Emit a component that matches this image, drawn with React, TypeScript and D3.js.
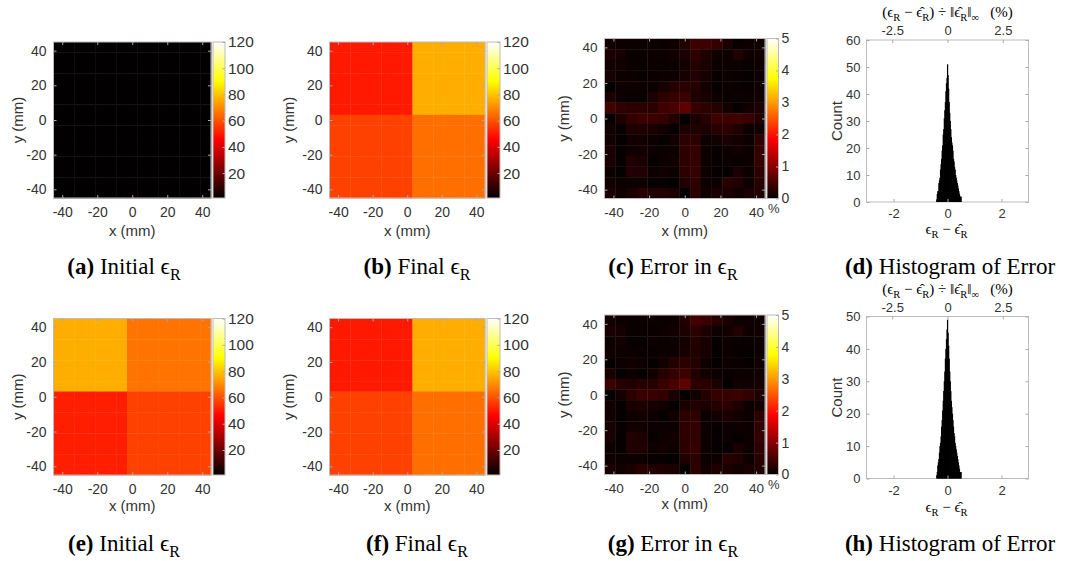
import React, { useEffect, useRef } from "react";
import * as d3 from "d3";

// cell centres of the 15 x 15 reconstruction grid (mm)
const cellCenters = [-42, -36, -30, -24, -18, -12, -6, 0, 6, 12, 18, 24, 30, 36, 42];
const mmTicks = [-40, -20, 0, 20, 40];
const epsTicks = [20, 40, 60, 80, 100, 120];
const errTicks = [0, 1, 2, 3, 4, 5];

// quadrant permittivities: [top-left, top-right, bottom-left, bottom-right]
const initialA = [1, 1, 1, 1];
const finalB = [50, 76, 57, 65];
const initialE = [76, 66, 51, 57];
const finalF = [50, 76, 57, 65];
// quadrant boundaries (mm): [x, y]
const splitB = [3, 3];
const splitE = [-3, 3];

// relative error (%) rows top -> bottom
const errorC = [
  [0.12, 0.1, 0.08, 0.1, 0.08, 0.06, 0.1, 0.22, 0.42, 0.45, 0.38, 0.18, 0.04, 0.08, 0.1],
  [0.18, 0.15, 0.06, 0.06, 0.08, 0.08, 0.12, 0.18, 0.32, 0.2, 0.1, 0.08, 0.22, 0.1, 0.12],
  [0.12, 0.12, 0.06, 0.05, 0.08, 0.06, 0.08, 0.12, 0.25, 0.18, 0.06, 0.1, 0.08, 0.05, 0.1],
  [0.15, 0.1, 0.08, 0.06, 0.06, 0.08, 0.1, 0.15, 0.22, 0.15, 0.04, 0.08, 0.06, 0.04, 0.08],
  [0.02, 0.1, 0.1, 0.08, 0.06, 0.15, 0.25, 0.28, 0.25, 0.12, 0.04, 0.08, 0.06, 0.04, 0.1],
  [0.2, 0.08, 0.06, 0.05, 0.18, 0.32, 0.38, 0.42, 0.22, 0.15, 0.1, 0.06, 0.08, 0.08, 0.12],
  [0.48, 0.35, 0.32, 0.32, 0.3, 0.45, 0.52, 0.68, 0.38, 0.32, 0.25, 0.12, 0.04, 0.12, 0.18],
  [0.02, 0.2, 0.35, 0.42, 0.42, 0.38, 0.22, 0.02, 0.18, 0.28, 0.45, 0.45, 0.45, 0.4, 0.22],
  [0.12, 0.04, 0.2, 0.2, 0.18, 0.12, 0.04, 0.18, 0.22, 0.18, 0.28, 0.32, 0.22, 0.08, 0.12],
  [0.12, 0.04, 0.12, 0.12, 0.08, 0.04, 0.12, 0.32, 0.32, 0.08, 0.12, 0.18, 0.12, 0.08, 0.32],
  [0.18, 0.04, 0.12, 0.12, 0.08, 0.08, 0.08, 0.32, 0.38, 0.08, 0.04, 0.08, 0.12, 0.08, 0.38],
  [0.18, 0.04, 0.22, 0.18, 0.04, 0.08, 0.12, 0.32, 0.38, 0.08, 0.04, 0.08, 0.04, 0.08, 0.38],
  [0.08, 0.04, 0.22, 0.22, 0.08, 0.12, 0.08, 0.32, 0.38, 0.08, 0.04, 0.04, 0.18, 0.08, 0.32],
  [0.12, 0.08, 0.08, 0.08, 0.04, 0.04, 0.02, 0.22, 0.32, 0.08, 0.08, 0.28, 0.22, 0.08, 0.28],
  [0.18, 0.12, 0.18, 0.28, 0.22, 0.22, 0.18, 0.02, 0.32, 0.12, 0.18, 0.18, 0.12, 0.18, 0.22],
];
const errorG = [
  [0.12, 0.1, 0.06, 0.08, 0.08, 0.06, 0.1, 0.22, 0.48, 0.42, 0.28, 0.18, 0.1, 0.1, 0.1],
  [0.18, 0.15, 0.06, 0.06, 0.06, 0.08, 0.12, 0.2, 0.32, 0.2, 0.08, 0.12, 0.22, 0.08, 0.12],
  [0.1, 0.12, 0.05, 0.04, 0.08, 0.06, 0.08, 0.12, 0.25, 0.15, 0.04, 0.1, 0.05, 0.05, 0.08],
  [0.12, 0.1, 0.08, 0.06, 0.05, 0.08, 0.08, 0.15, 0.22, 0.15, 0.04, 0.08, 0.04, 0.04, 0.08],
  [0.02, 0.1, 0.12, 0.1, 0.04, 0.12, 0.25, 0.3, 0.25, 0.1, 0.04, 0.08, 0.06, 0.04, 0.1],
  [0.18, 0.04, 0.08, 0.04, 0.12, 0.28, 0.38, 0.42, 0.22, 0.12, 0.1, 0.06, 0.08, 0.08, 0.12],
  [0.42, 0.28, 0.22, 0.28, 0.25, 0.4, 0.52, 0.68, 0.32, 0.28, 0.2, 0.04, 0.12, 0.12, 0.15],
  [0.04, 0.12, 0.32, 0.4, 0.4, 0.35, 0.18, 0.02, 0.12, 0.25, 0.38, 0.4, 0.42, 0.35, 0.2],
  [0.12, 0.04, 0.18, 0.2, 0.15, 0.12, 0.04, 0.18, 0.22, 0.18, 0.25, 0.3, 0.2, 0.08, 0.12],
  [0.12, 0.04, 0.1, 0.12, 0.08, 0.04, 0.12, 0.32, 0.32, 0.08, 0.12, 0.18, 0.12, 0.08, 0.32],
  [0.15, 0.04, 0.12, 0.12, 0.08, 0.08, 0.08, 0.32, 0.35, 0.08, 0.04, 0.08, 0.1, 0.08, 0.35],
  [0.18, 0.04, 0.22, 0.2, 0.04, 0.08, 0.12, 0.32, 0.35, 0.08, 0.04, 0.08, 0.04, 0.08, 0.38],
  [0.08, 0.04, 0.22, 0.22, 0.08, 0.12, 0.08, 0.32, 0.38, 0.08, 0.04, 0.04, 0.18, 0.08, 0.32],
  [0.1, 0.08, 0.08, 0.08, 0.04, 0.04, 0.02, 0.22, 0.32, 0.08, 0.08, 0.28, 0.22, 0.08, 0.28],
  [0.18, 0.12, 0.18, 0.28, 0.22, 0.22, 0.18, 0.02, 0.32, 0.12, 0.2, 0.18, 0.12, 0.18, 0.22],
];

// histograms of absolute error, bins of 0.02 starting at -0.42
const histStart = -0.42;
const histWidth = 0.02;
const histD = [1, 3, 4, 4, 7, 8, 9, 12, 14, 16, 19, 21, 25, 27, 31, 34, 37, 41, 44, 46, 51, 47, 42, 37, 33, 30, 27, 24, 22, 21, 19, 16, 15, 13, 12, 10, 9, 8, 7, 6, 5, 4, 3, 2, 2, 2];
const histH = [1, 2, 4, 5, 6, 8, 10, 11, 13, 16, 18, 21, 24, 27, 30, 33, 37, 40, 43, 46, 49, 45, 41, 37, 33, 30, 27, 24, 22, 20, 18, 16, 14, 13, 11, 10, 9, 8, 7, 6, 5, 4, 3, 2, 2, 2];
const histXTicks = [-2, 0, 2];
const histPctTicks = [-2.5, 0, 2.5];
const histYTicksD = [0, 10, 20, 30, 40, 50, 60];
const histYTicksH = [0, 10, 20, 30, 40, 50];

const SANS = "'Liberation Sans', Arial, Helvetica, sans-serif";
const SERIF = "'Liberation Serif', 'Times New Roman', 'DejaVu Serif', serif";
const TXT = "#333";
const FRAME = "#bcbcbc";

const hotStops = [0, 0.375, 0.75, 1];
const hotColors = ["#020000", "#ff0000", "#ffff00", "#ffffff"];
const hot = d3.scaleLinear<string>().domain(hotStops).range(hotColors).clamp(true);

type Seg = { t: string; bold?: boolean; sub?: boolean };

function richText(g: any, x: number, y: number, segs: Seg[], size: number) {
  const text = g
    .append("text")
    .attr("x", x)
    .attr("y", y)
    .attr("text-anchor", "middle")
    .attr("font-family", SERIF)
    .attr("font-size", size)
    .attr("fill", "#000")
    .style("white-space", "pre");
  let off = 0;
  segs.forEach((s) => {
    const want = s.sub ? size * 0.28 : 0;
    text
      .append("tspan")
      .attr("dy", want - off)
      .attr("font-size", s.sub ? size * 0.7 : size)
      .attr("font-weight", s.bold ? "bold" : "normal")
      .text(s.t);
    off = want;
  });
}

function styleAxis(sel: any, size = 13) {
  sel.select(".domain").remove();
  sel.selectAll("line").attr("stroke", "#aaa");
  sel.selectAll("text").attr("fill", TXT).attr("font-size", size).attr("font-family", SANS);
}

function quadGrid(q: number[], split: number[]) {
  return cellCenters
    .slice()
    .reverse()
    .map((yc) => cellCenters.map((xc) => (yc > split[1] ? (xc < split[0] ? q[0] : q[1]) : xc < split[0] ? q[2] : q[3])));
}

type HeatOpt = {
  x0: number; y0: number; w: number; h: number; cbX: number; cbW: number;
  grid: number[][]; vmin: number; vmax: number; cbTicks: number[]; pct?: boolean;
  xLabelY: number; yLabelX: number; id: string; tickSize: number; cbSize: number;
};

function drawHeat(svg: any, o: HeatOpt) {
  const x = d3.scaleLinear().domain([-45, 45]).range([o.x0, o.x0 + o.w]);
  const y = d3.scaleLinear().domain([-45, 45]).range([o.y0 + o.h, o.y0]);
  const half = (cellCenters[1] - cellCenters[0]) / 2;
  const rowsY = cellCenters.slice().reverse();
  const norm = (v: number) => (v - o.vmin) / (o.vmax - o.vmin);
  const g = svg.append("g");
  o.grid.forEach((row, i) =>
    row.forEach((v, j) => {
      const xc = cellCenters[j];
      const yc = rowsY[i];
      g.append("rect")
        .attr("x", x(xc - half))
        .attr("y", y(yc + half))
        .attr("width", x(xc + half) - x(xc - half) + 0.4)
        .attr("height", y(yc - half) - y(yc + half) + 0.4)
        .attr("fill", hot(norm(v)));
    })
  );
  g.append("rect").attr("x", o.x0).attr("y", o.y0).attr("width", o.w).attr("height", o.h)
    .attr("fill", "none").attr("stroke", FRAME);

  const fmt = (d: any) => String(d);
  styleAxis(svg.append("g").attr("transform", `translate(0,${o.y0 + o.h})`)
    .call(d3.axisBottom(x).tickValues(mmTicks).tickSize(-3).tickPadding(9).tickFormat(fmt)), o.tickSize);
  styleAxis(svg.append("g").attr("transform", `translate(0,${o.y0})`)
    .call(d3.axisTop(x).tickValues(mmTicks).tickSize(-3).tickFormat(() => "")));
  styleAxis(svg.append("g").attr("transform", `translate(${o.x0},0)`)
    .call(d3.axisLeft(y).tickValues(mmTicks).tickSize(-3).tickPadding(7).tickFormat(fmt)), o.tickSize);
  styleAxis(svg.append("g").attr("transform", `translate(${o.x0 + o.w},0)`)
    .call(d3.axisRight(y).tickValues(mmTicks).tickSize(-3).tickFormat(() => "")));

  svg.append("text").attr("x", o.x0 + o.w / 2).attr("y", o.xLabelY).attr("text-anchor", "middle")
    .attr("dominant-baseline", "central").attr("font-family", SANS).attr("font-size", 15).attr("fill", TXT)
    .text("x (mm)");
  svg.append("text").attr("transform", `translate(${o.yLabelX},${o.y0 + o.h / 2}) rotate(-90)`)
    .attr("text-anchor", "middle").attr("dominant-baseline", "central").attr("font-family", SANS)
    .attr("font-size", 15).attr("fill", TXT).text("y (mm)");

  // colour bar
  const grad = svg.append("defs").append("linearGradient").attr("id", o.id)
    .attr("x1", 0).attr("y1", 1).attr("x2", 0).attr("y2", 0);
  hotStops.forEach((s, i) => grad.append("stop").attr("offset", s).attr("stop-color", hotColors[i]));
  svg.append("rect").attr("x", o.cbX).attr("y", o.y0).attr("width", o.cbW).attr("height", o.h)
    .attr("fill", `url(#${o.id})`).attr("stroke", FRAME);
  const cy = d3.scaleLinear().domain([o.vmin, o.vmax]).range([o.y0 + o.h, o.y0]);
  styleAxis(svg.append("g").attr("transform", `translate(${o.cbX + o.cbW},0)`)
    .call(d3.axisRight(cy).tickValues(o.cbTicks).tickSize(-2.5).tickPadding(3).tickFormat(fmt)), o.cbSize);
  if (o.pct) {
    svg.append("text").attr("x", o.cbX + o.cbW / 2 + 1).attr("y", o.y0 + o.h + 10)
      .attr("text-anchor", "middle").attr("dominant-baseline", "central").attr("font-family", SANS)
      .attr("font-size", 13).attr("fill", TXT).text("%");
  }
}

type HistOpt = {
  x0: number; y0: number; w: number; h: number; counts: number[]; ymax: number; yTicks: number[];
  topLabelY: number; botLabelY: number;
};

function drawHist(svg: any, o: HistOpt) {
  const x = d3.scaleLinear().domain([-3, 3]).range([o.x0, o.x0 + o.w]);
  const xp = d3.scaleLinear().domain([-3.66, 3.66]).range([o.x0, o.x0 + o.w]);
  const y = d3.scaleLinear().domain([0, o.ymax]).range([o.y0 + o.h, o.y0]);
  svg.append("rect").attr("x", o.x0).attr("y", o.y0).attr("width", o.w).attr("height", o.h)
    .attr("fill", "#fff").attr("stroke", FRAME);
  const bw = x(histWidth) - x(0);
  svg.append("g").selectAll("rect").data(o.counts).join("rect")
    .attr("x", (_: number, i: number) => x(histStart + i * histWidth))
    .attr("y", (d: number) => y(d))
    .attr("width", bw + 0.7)
    .attr("height", (d: number) => y(0) - y(d))
    .attr("fill", "#000");

  const fmt = (d: any) => String(d);
  styleAxis(svg.append("g").attr("transform", `translate(0,${o.y0 + o.h})`)
    .call(d3.axisBottom(x).tickValues(histXTicks).tickSize(-3).tickPadding(7).tickFormat(fmt)));
  styleAxis(svg.append("g").attr("transform", `translate(0,${o.y0})`)
    .call(d3.axisTop(xp).tickValues(histPctTicks).tickSize(-3).tickPadding(5).tickFormat(fmt)));
  styleAxis(svg.append("g").attr("transform", `translate(${o.x0},0)`)
    .call(d3.axisLeft(y).tickValues(o.yTicks).tickSize(-3).tickPadding(6).tickFormat(fmt)));
  styleAxis(svg.append("g").attr("transform", `translate(${o.x0 + o.w},0)`)
    .call(d3.axisRight(y).tickValues(o.yTicks).tickSize(-3).tickFormat(() => "")));

  svg.append("text").attr("transform", `translate(${o.x0 - 30},${o.y0 + o.h / 2}) rotate(-90)`)
    .attr("text-anchor", "middle").attr("dominant-baseline", "central").attr("font-family", SANS)
    .attr("font-size", 15).attr("fill", TXT).text("Count");

  richText(svg, o.x0 + o.w / 2, o.topLabelY, [
    { t: "(ϵ" }, { t: "R", sub: true }, { t: " − ϵ\u0302" }, { t: "R", sub: true },
    { t: ") ÷ ‖ϵ\u0302" }, { t: "R", sub: true }, { t: "‖" }, { t: "∞", sub: true }, { t: "   (%)" },
  ], 15);
  richText(svg, o.x0 + o.w / 2 - 1, o.botLabelY, [
    { t: "ϵ" }, { t: "R", sub: true }, { t: " − ϵ\u0302" }, { t: "R", sub: true },
  ], 15);
}

export default function App() {
  const ref = useRef<SVGSVGElement>(null);

  useEffect(() => {
    const svg = d3.select(ref.current);
    svg.selectAll("*").remove();

    const big = { tickSize: 14, cbSize: 15.5 };
    const small = { tickSize: 13.5, cbSize: 14 };

    drawHeat(svg, { x0: 53.5, y0: 42, w: 157.5, h: 156, cbX: 213, cbW: 12, grid: quadGrid(initialA, splitB),
      vmin: 1, vmax: 120, cbTicks: epsTicks, xLabelY: 230, yLabelX: 17, id: "ga", ...big });
    drawHeat(svg, { x0: 329.5, y0: 42, w: 155.5, h: 156, cbX: 487, cbW: 13, grid: quadGrid(finalB, splitB),
      vmin: 1, vmax: 120, cbTicks: epsTicks, xLabelY: 230, yLabelX: 288.5, id: "gb", ...big });
    drawHeat(svg, { x0: 604.5, y0: 38.5, w: 160.5, h: 160, cbX: 767, cbW: 11.5, grid: errorC,
      vmin: 0, vmax: 5, cbTicks: errTicks, pct: true, xLabelY: 230, yLabelX: 563.5, id: "gc", ...small });
    drawHist(svg, { x0: 866.5, y0: 40, w: 162, h: 162, counts: histD, ymax: 60, yTicks: histYTicksD,
      topLabelY: 17, botLabelY: 234 });

    drawHeat(svg, { x0: 53.5, y0: 318.5, w: 157.5, h: 156.5, cbX: 213, cbW: 12, grid: quadGrid(initialE, splitE),
      vmin: 1, vmax: 120, cbTicks: epsTicks, xLabelY: 505, yLabelX: 17, id: "ge", ...big });
    drawHeat(svg, { x0: 329.5, y0: 318.5, w: 155.5, h: 156.5, cbX: 487, cbW: 13, grid: quadGrid(finalF, splitB),
      vmin: 1, vmax: 120, cbTicks: epsTicks, xLabelY: 505, yLabelX: 288.5, id: "gf", ...big });
    drawHeat(svg, { x0: 604.5, y0: 315, w: 160.5, h: 159.5, cbX: 767, cbW: 11.5, grid: errorG,
      vmin: 0, vmax: 5, cbTicks: errTicks, pct: true, xLabelY: 503, yLabelX: 563.5, id: "gg", ...small });
    drawHist(svg, { x0: 866.5, y0: 316.5, w: 162, h: 162, counts: histH, ymax: 50, yTicks: histYTicksH,
      topLabelY: 294, botLabelY: 512 });

    const eps: Seg[] = [{ t: "ϵ" }, { t: "R", sub: true }];
    richText(svg, 124, 274, [{ t: "(a)", bold: true }, { t: " Initial " }, ...eps], 23);
    richText(svg, 417, 274, [{ t: "(b)", bold: true }, { t: " Final " }, ...eps], 23);
    richText(svg, 673, 274, [{ t: "(c)", bold: true }, { t: " Error in " }, ...eps], 23);
    richText(svg, 950, 274, [{ t: "(d)", bold: true }, { t: " Histogram of Error" }], 23);
    richText(svg, 124, 551, [{ t: "(e)", bold: true }, { t: " Initial " }, ...eps], 23);
    richText(svg, 417, 551, [{ t: "(f)", bold: true }, { t: " Final " }, ...eps], 23);
    richText(svg, 673, 551, [{ t: "(g)", bold: true }, { t: " Error in " }, ...eps], 23);
    richText(svg, 950, 551, [{ t: "(h)", bold: true }, { t: " Histogram of Error" }], 23);
  }, []);

  return (
    <svg
      ref={ref}
      width={1080}
      height={561}
      style={{ position: "absolute", left: 0, top: 0, background: "#fff", display: "block" }}
    />
  );
}
